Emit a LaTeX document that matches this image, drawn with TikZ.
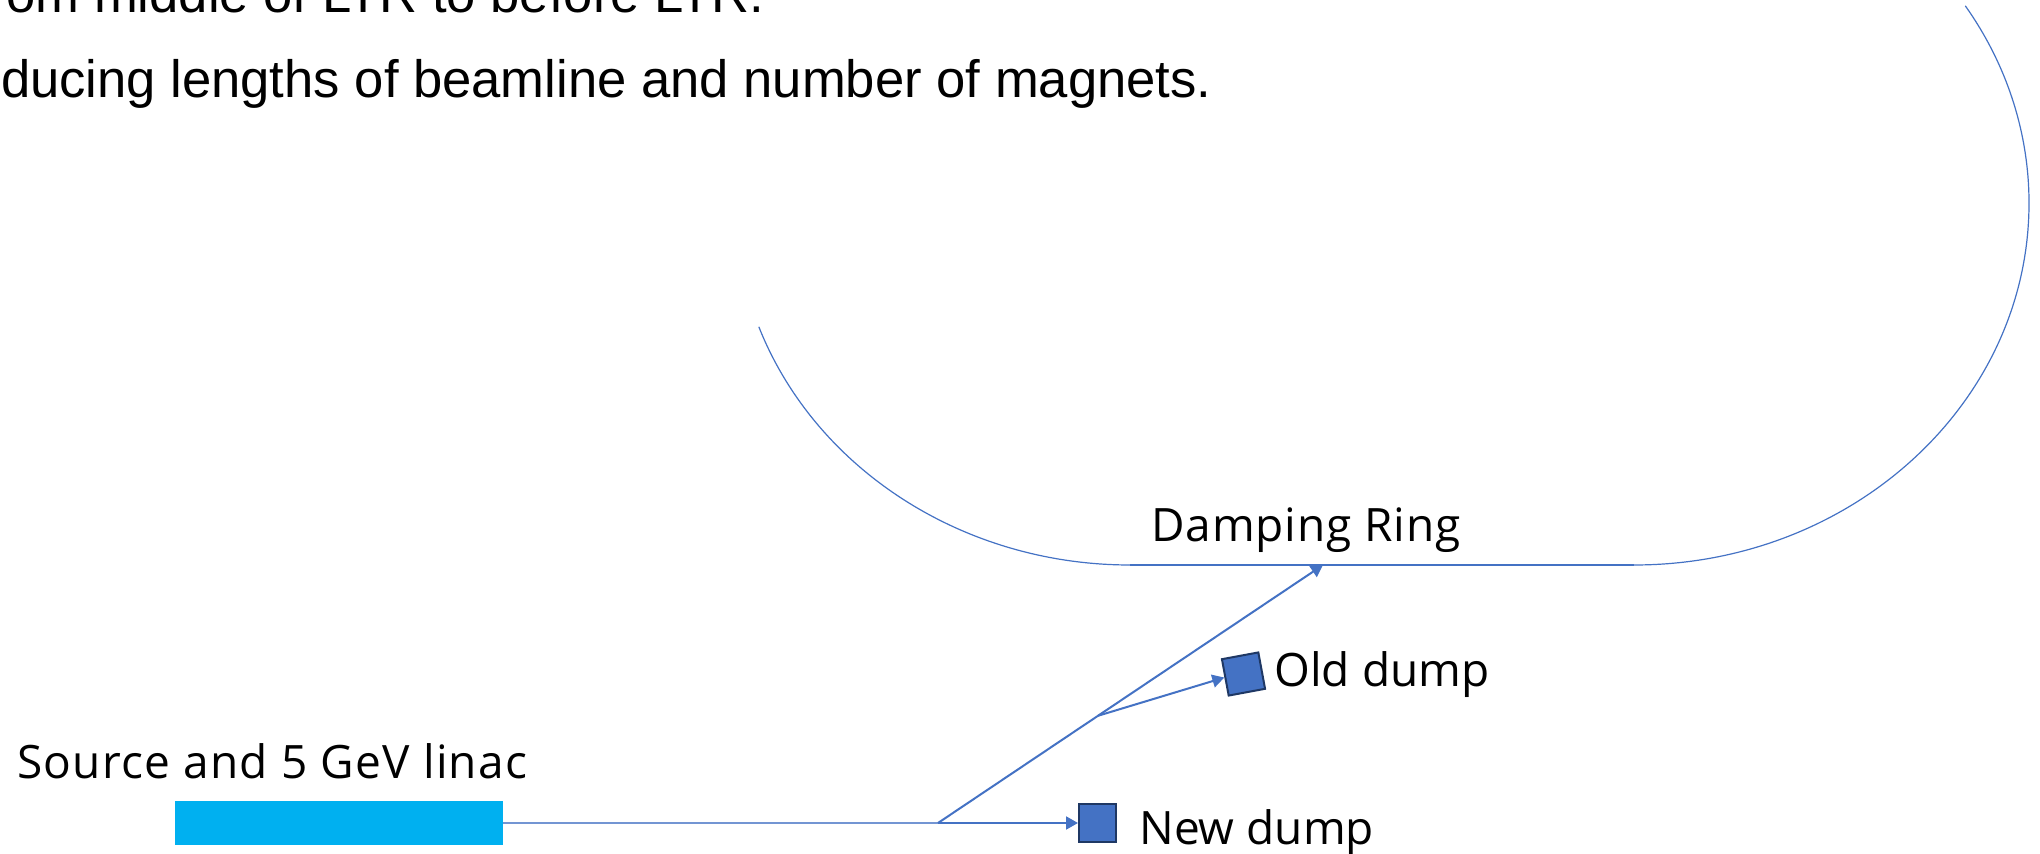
\documentclass[tikz,border=0pt]{standalone}
\usepackage{fontspec}
\setmainfont{Liberation Sans}
\newfontfamily\labelfont{Open Sans}
\usetikzlibrary{arrows.meta,calc}
\definecolor{beam}{HTML}{4472C4}
\definecolor{navy}{HTML}{1F3864}
\definecolor{linaccol}{HTML}{00B0F0}
\begin{document}
\begin{tikzpicture}[x=0.5pt,y=-0.5pt,
  beamline/.style={draw=beam,line width=1pt},
  ringline/.style={draw=beam,line width=0.6pt},
  beamarrow/.style={beamline,-{Triangle[length=6pt,width=6.5pt]}},
  dumpbox/.style={draw=navy,fill=beam,line width=1pt,minimum size=18.5pt,inner sep=0pt},
  lbl/.style={font=\labelfont\fontsize{23}{28}\selectfont,inner sep=0pt,text=black},
  toptext/.style={font=\fontsize{26.3}{30}\selectfont,inner sep=0pt,text=black}]
\useasboundingbox (0,0) rectangle (2040,854);
% top text (cut at the left edge)
\node[toptext,anchor=base east] (t1) at (765,13) {om middle of LTR to before LTR.};
\node[toptext,anchor=base east] (t2) at (1212,98) {ducing lengths of beamline and number of magnets.};
% damping ring
\coordinate (L) at (1130,565);
\coordinate (R) at (1634,565);
\coordinate (T) at (1323,565);
\draw[ringline] (L) arc[start angle=90,end angle=160,x radius=395,y radius=362];
\draw[ringline] (L) -- (R);
\draw[ringline] (R) arc[start angle=90,end angle=-33,x radius=395,y radius=362];
\node[lbl,anchor=base,font=\labelfont\fontsize{23}{28}\selectfont\addfontfeatures{LetterSpace=2}] (drlabel) at (1306,542) {Damping Ring};
% linac
\node[fill=linaccol,minimum width=164pt,minimum height=22pt,inner sep=0pt] (linac) at (339,823) {};
\node[lbl,anchor=base west,font=\labelfont\fontsize{23}{28}\selectfont\addfontfeatures{LetterSpace=2.7}] (srclabel) at (17,779) {Source and 5 GeV linac};
% dumps
\node[dumpbox] (newdump) at (1097.5,823) {};
\node[lbl,anchor=base west] (ndlabel) at (1139,844) {New dump};
\node[dumpbox,rotate=10.5] (olddump) at (1243.5,674) {};
\node[lbl,anchor=base west] (odlabel) at (1274,687) {Old dump};
% beam lines
\coordinate (J) at (938,823);
\coordinate (B) at ($(J)!0.4156!(T)$);
\draw[draw=beam!75,line width=0.75pt] (linac.east) -- (J);
\draw[beamarrow] (J) -- (newdump.west);
\draw[beamarrow] (J) -- (T);
\draw[beamarrow] (B) -- (olddump.west);
\end{tikzpicture}
\end{document}
